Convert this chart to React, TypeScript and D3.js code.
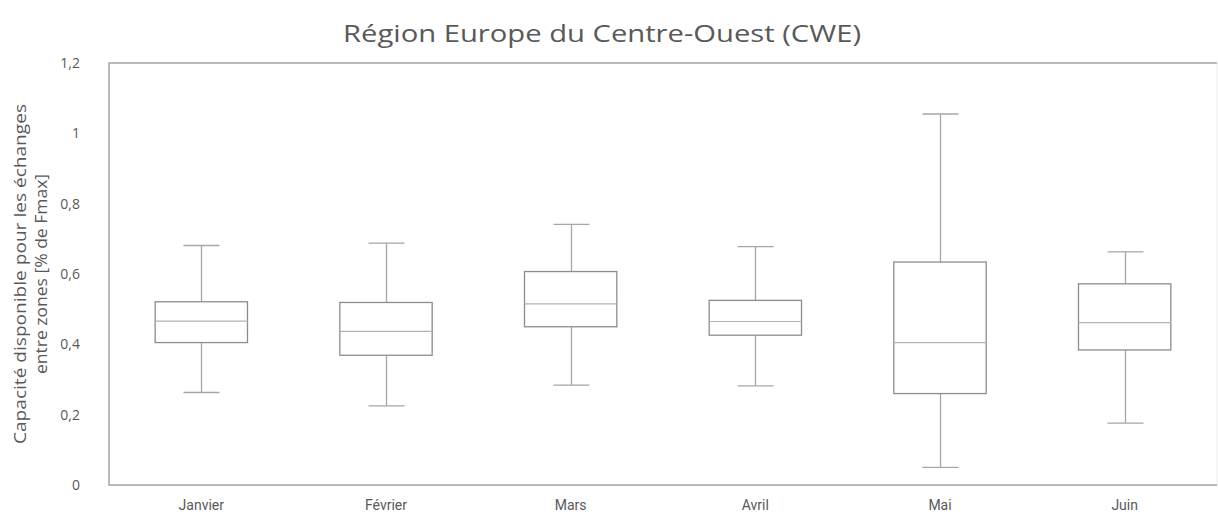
import * as d3 from "d3";
import React, { useRef, useEffect } from "react";

// values
const months = ["Janvier", "Février", "Mars", "Avril", "Mai", "Juin"];
const minValues = [0.263, 0.225, 0.284, 0.282, 0.05, 0.176];
const q1Values = [0.405, 0.369, 0.45, 0.426, 0.26, 0.384];
const medianValues = [0.466, 0.437, 0.515, 0.465, 0.405, 0.462];
const q3Values = [0.521, 0.519, 0.607, 0.525, 0.634, 0.572];
const maxValues = [0.681, 0.688, 0.741, 0.678, 1.055, 0.663];
const yTicks = [0, 0.2, 0.4, 0.6, 0.8, 1, 1.2];

const title = "Région Europe du Centre-Ouest (CWE)";
const yTitle = ["Capacité disponible pour les échanges", "entre zones [% de Fmax]"];
const yTitleLengths = [340, 200];

const W = 1218;
const H = 523;
const margin = { top: 63, right: 1, bottom: 38, left: 109 };
const font = "Roboto, 'Open Sans', sans-serif";
const wideFont = "'Open Sans', Roboto, sans-serif";
const textColor = "#595959";

function App() {
  const ref = useRef<SVGSVGElement>(null);

  useEffect(() => {
    const svg = d3.select(ref.current);
    svg.selectAll("*").remove();

    const x = d3
      .scaleBand()
      .domain(months)
      .range([margin.left, W - margin.right])
      .paddingInner(0.5)
      .paddingOuter(0.25);
    const y = d3
      .scaleLinear()
      .domain([0, 1.2])
      .range([H - margin.bottom, margin.top]);

    // title
    svg
      .append("text")
      .attr("x", 602)
      .attr("y", 42)
      .attr("text-anchor", "middle")
      .attr("font-family", wideFont)
      .attr("font-size", 24)
      .attr("textLength", 518)
      .attr("lengthAdjust", "spacingAndGlyphs")
      .attr("fill", textColor)
      .text(title);

    // frame
    const x0 = margin.left;
    const x1 = W - margin.right;
    const yTop = y(1.2);
    const yBot = y(0);
    svg
      .append("rect")
      .attr("x", x0)
      .attr("y", yTop)
      .attr("width", x1 - x0)
      .attr("height", yBot - yTop)
      .attr("fill", "none")
      .attr("stroke", "#ececec")
      .attr("stroke-width", 1);
    svg
      .append("path")
      .attr("d", `M${x1},${yTop}H${x0}V${yBot}H${x1}`)
      .attr("fill", "none")
      .attr("stroke", "#a6a6a6")
      .attr("stroke-width", 1.5);

    // y axis labels
    svg
      .append("g")
      .selectAll("text")
      .data(yTicks)
      .enter()
      .append("text")
      .attr("x", 80)
      .attr("y", (d) => y(d))
      .attr("dy", "0.35em")
      .attr("text-anchor", "end")
      .attr("font-family", wideFont)
      .attr("font-size", 14)
      .attr("fill", textColor)
      .text((d) => d3.format(".1~f")(d).replace(".", ","));

    // y axis title
    const yt = svg
      .append("text")
      .attr("transform", "translate(27," + (yTop + yBot) / 2 + ") rotate(-90)")
      .attr("text-anchor", "middle")
      .attr("font-family", wideFont)
      .attr("font-size", 17)
      .attr("fill", textColor);
    yTitle.forEach((line, i) => {
      yt.append("tspan")
        .attr("x", 0)
        .attr("dy", i === 0 ? "-0.05em" : "1.25em")
        .attr("textLength", yTitleLengths[i])
        .attr("lengthAdjust", "spacingAndGlyphs")
        .text(line);
    });

    // x labels
    svg
      .append("g")
      .selectAll("text")
      .data(months)
      .enter()
      .append("text")
      .attr("x", (d) => x(d)! + x.bandwidth() / 2)
      .attr("y", 510)
      .attr("text-anchor", "middle")
      .attr("font-family", font)
      .attr("font-size", 14)
      .attr("fill", textColor)
      .text((d) => d);

    // boxes
    const boxes = svg
      .append("g")
      .selectAll("g")
      .data(months)
      .enter()
      .append("g");
    const cx = (d: string) => Math.round(x(d)! + x.bandwidth() / 2) + 0.5;
    const capW = 36;

    boxes
      .append("line")
      .attr("x1", cx)
      .attr("x2", cx)
      .attr("y1", (d, i) => y(maxValues[i]))
      .attr("y2", (d, i) => y(q3Values[i]))
      .attr("stroke", "#a6a6a6")
      .attr("stroke-width", 1.3);
    boxes
      .append("line")
      .attr("x1", cx)
      .attr("x2", cx)
      .attr("y1", (d, i) => y(q1Values[i]))
      .attr("y2", (d, i) => y(minValues[i]))
      .attr("stroke", "#a6a6a6")
      .attr("stroke-width", 1.3);
    boxes
      .append("line")
      .attr("x1", (d) => cx(d) - capW / 2)
      .attr("x2", (d) => cx(d) + capW / 2)
      .attr("y1", (d, i) => y(maxValues[i]))
      .attr("y2", (d, i) => y(maxValues[i]))
      .attr("stroke", "#a6a6a6")
      .attr("stroke-width", 1.3);
    boxes
      .append("line")
      .attr("x1", (d) => cx(d) - capW / 2)
      .attr("x2", (d) => cx(d) + capW / 2)
      .attr("y1", (d, i) => y(minValues[i]))
      .attr("y2", (d, i) => y(minValues[i]))
      .attr("stroke", "#a6a6a6")
      .attr("stroke-width", 1.3);
    boxes
      .append("rect")
      .attr("x", (d) => x(d)!)
      .attr("width", x.bandwidth())
      .attr("y", (d, i) => y(q3Values[i]))
      .attr("height", (d, i) => y(q1Values[i]) - y(q3Values[i]))
      .attr("fill", "#fff")
      .attr("stroke", "#8c8c8c")
      .attr("stroke-width", 1.3);
    boxes
      .append("line")
      .attr("x1", (d) => x(d)!)
      .attr("x2", (d) => x(d)! + x.bandwidth())
      .attr("y1", (d, i) => y(medianValues[i]))
      .attr("y2", (d, i) => y(medianValues[i]))
      .attr("stroke", "#b3b3b3")
      .attr("stroke-width", 1.2);
  }, []);

  return (
    <div style={{ position: "absolute", left: 0, top: 0 }}>
      <svg ref={ref} width={W} height={H} style={{ display: "block", background: "#fff" }}></svg>
    </div>
  );
}

export default App;
